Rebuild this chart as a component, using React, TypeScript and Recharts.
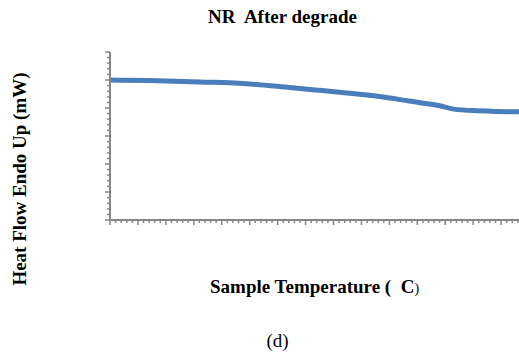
import React from 'react';
import { LineChart, Line, XAxis, YAxis } from 'recharts';

// temperature position (axis units, one unit per major tick) and heat flow reading
const temps = [0, 1.43, 3.21, 5.0, 6.43, 7.5, 8.57, 9.64, 10.7, 11.8, 12.3, 13.2, 14.3, 14.64];
const heatFlow = [5.0, 4.98, 4.93, 4.86, 4.73, 4.63, 4.53, 4.41, 4.25, 4.08, 3.96, 3.9, 3.87, 3.87];

const chartTitle = 'NR  After degrade';
const xTitle = 'Sample Temperature (  C';
const yTitle = 'Heat Flow Endo Up (mW)';
const caption = '(d)';

const data = temps.map((t, i) => ({ t, v: heatFlow[i] }));

const AXIS = '#868686';
const FONT = "'Liberation Serif', 'Times New Roman', 'DejaVu Serif', serif";

const xTicks = Array.from({ length: 74 }, (_, i) => +(i * 0.2).toFixed(1));
const yTicks = Array.from({ length: 31 }, (_, i) => +(i * 0.2).toFixed(1));

const isMajor = (v: number) => Math.abs(v - Math.round(v)) < 1e-6;

const XTick = (props: any) => {
  const { x, y, payload } = props;
  const len = isMajor(payload.value) ? 5 : 3;
  return <line x1={x} x2={x} y1={y} y2={y + len} stroke={AXIS} strokeWidth={1.5} />;
};

const YTick = (props: any) => {
  const { x, y, payload } = props;
  const len = isMajor(payload.value) ? 5 : 3;
  return <line x1={x} x2={x - len} y1={y} y2={y} stroke={AXIS} strokeWidth={1.5} />;
};

const txt: React.CSSProperties = { position: 'absolute', whiteSpace: 'pre', fontFamily: FONT, color: '#000' };

export default function App() {
  return (
    <div style={{ position: 'absolute', left: 0, top: 0, width: 519, height: 356, background: '#fff' }}>
      <LineChart width={519} height={356} data={data} margin={{ top: 52, right: 0, left: 60, bottom: 126 }}>
        <XAxis
          dataKey="t"
          type="number"
          domain={[0, 14.64]}
          ticks={xTicks}
          interval={0}
          height={10}
          tickSize={0}
          tickMargin={0}
          tick={<XTick />}
          axisLine={{ stroke: AXIS, strokeWidth: 2 }}
          allowDataOverflow
        />
        <YAxis
          type="number"
          domain={[0, 6]}
          ticks={yTicks}
          interval={0}
          width={50}
          tickSize={0}
          tickMargin={0}
          tick={<YTick />}
          axisLine={{ stroke: AXIS, strokeWidth: 2 }}
        />
        <Line
          type="monotone"
          dataKey="v"
          stroke="#4A7EBB"
          strokeWidth={5}
          dot={false}
          isAnimationActive={false}
        />
      </LineChart>
      <div style={{ ...txt, left: 0, width: 519, top: 6, textAlign: 'center', fontWeight: 'bold', fontSize: 19, paddingLeft: 46, boxSizing: 'border-box' }}>
        {chartTitle}
      </div>
      <div
        style={{
          ...txt,
          left: 20,
          top: 179,
          transform: 'translate(-50%, -50%) rotate(-90deg)',
          fontWeight: 'bold',
          fontSize: 19,
        }}
      >
        {yTitle}
      </div>
      <div style={{ ...txt, left: 210, top: 276, fontWeight: 'bold', fontSize: 19 }}>
        {xTitle}
        <span style={{ fontWeight: 'normal', fontSize: 14 }}>)</span>
      </div>
      <div style={{ ...txt, left: 0, width: 519, top: 330, textAlign: 'center', fontSize: 19, paddingLeft: 36, boxSizing: 'border-box' }}>
        {caption}
      </div>
    </div>
  );
}
